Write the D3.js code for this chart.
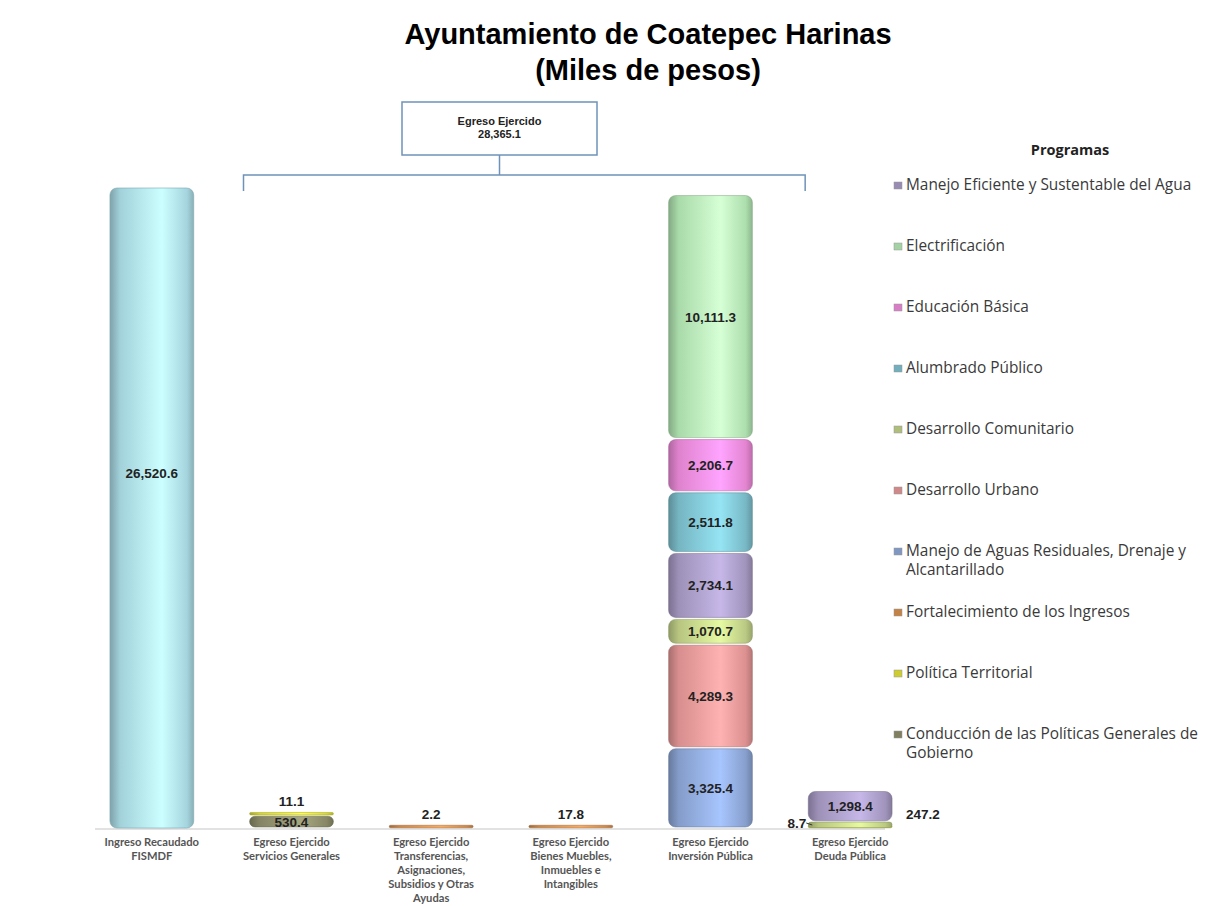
<!DOCTYPE html>
<html>
<head>
<meta charset="utf-8">
<script src="https://cdn.jsdelivr.net/npm/d3@7"></script>
<style>
  body { margin: 0; background: #fff; }
  svg { display: block; }
</style>
</head>
<body>
<div id="chart"></div>
<script>
// categories along the bottom
const categories = [
  "Ingreso Recaudado|FISMDF",
  "Egreso Ejercido|Servicios Generales",
  "Egreso Ejercido|Transferencias,|Asignaciones,|Subsidios y Otras|Ayudas",
  "Egreso Ejercido|Bienes Muebles,|Inmuebles e|Intangibles",
  "Egreso Ejercido|Inversión Pública",
  "Egreso Ejercido|Deuda Pública"
];

// ingreso bar (only first category)
const ingreso = [26520.6, 0, 0, 0, 0, 0];

// programs in stacking order (bottom -> top)
const programs = [
  "Conducción de las Políticas Generales de Gobierno",
  "Política Territorial",
  "Fortalecimiento de los Ingresos",
  "Manejo de Aguas Residuales, Drenaje y Alcantarillado",
  "Desarrollo Urbano",
  "Desarrollo Comunitario",
  "Manejo Eficiente y Sustentable del Agua",
  "Alumbrado Público",
  "Educación Básica",
  "Electrificación"
];

// values per program, one per category
const conduccion   = [0, 530.4, 0, 0, 0, 0];
const politicaTerr = [0, 11.1, 0, 0, 0, 8.7];
const fortalec     = [0, 0, 2.2, 17.8, 0, 0];
const aguasResid   = [0, 0, 0, 0, 3325.4, 0];
const desUrbano    = [0, 0, 0, 0, 4289.3, 0];
const desComunit   = [0, 0, 0, 0, 1070.7, 247.2];
const manejoAgua   = [0, 0, 0, 0, 2734.1, 1298.4];
const alumbrado    = [0, 0, 0, 0, 2511.8, 0];
const educacion    = [0, 0, 0, 0, 2206.7, 0];
const electrif     = [0, 0, 0, 0, 10111.3, 0];

const seriesValues = [conduccion, politicaTerr, fortalec, aguasResid, desUrbano,
                      desComunit, manejoAgua, alumbrado, educacion, electrif];

const programColors = ["#8e8e6c", "#e4e436", "#d9914e", "#8ea8d8", "#e89898",
                       "#c4d48a", "#a99cc6", "#7fc2d0", "#f08cdc", "#b6eab6"];
const ingresoColor = "#aee0ea";

// legend order (top -> bottom)
const legendOrder = [
  "Manejo Eficiente y Sustentable del Agua",
  "Electrificación",
  "Educación Básica",
  "Alumbrado Público",
  "Desarrollo Comunitario",
  "Desarrollo Urbano",
  "Manejo de Aguas Residuales, Drenaje y|Alcantarillado",
  "Fortalecimiento de los Ingresos",
  "Política Territorial",
  "Conducción de las Políticas Generales de|Gobierno"
];

const totalEgreso = 28365.1;

const width = 1207, height = 906;
const fmt = d3.format(",.1f");

const svg = d3.select("#chart").append("svg")
  .attr("width", width)
  .attr("height", height);

const defs = svg.append("defs");
function gradId(color, i) {
  let id = "g" + i;
  let c = d3.color(color);
  let g = defs.append("linearGradient").attr("id", id)
    .attr("x1", "0%").attr("x2", "100%").attr("y1", "0%").attr("y2", "0%");
  g.append("stop").attr("offset", "0%").attr("stop-color", c.darker(0.9));
  g.append("stop").attr("offset", "12%").attr("stop-color", c.darker(0.2));
  g.append("stop").attr("offset", "62%").attr("stop-color", c.brighter(0.45));
  g.append("stop").attr("offset", "92%").attr("stop-color", c.darker(0.15));
  g.append("stop").attr("offset", "100%").attr("stop-color", c.darker(0.7));
  return "url(#" + id + ")";
}
const fills = programColors.map((c, i) => gradId(c, i));
const ingresoFill = gradId(ingresoColor, "ing");

// title
svg.append("text").attr("x", 648).attr("y", 44)
  .attr("text-anchor", "middle")
  .style("font-family", "Liberation Sans, Arial, sans-serif")
  .style("font-weight", "bold").style("font-size", "29px")
  .text("Ayuntamiento de Coatepec Harinas");
svg.append("text").attr("x", 648).attr("y", 80)
  .attr("text-anchor", "middle")
  .style("font-family", "Liberation Sans, Arial, sans-serif")
  .style("font-weight", "bold").style("font-size", "29px")
  .text("(Miles de pesos)");

// scales
let x = d3.scaleBand()
  .domain(categories)
  .range([82, 920])
  .paddingInner(0.4)
  .paddingOuter(0.2);

let y = d3.scaleLinear()
  .domain([0, 26520.6])
  .range([828, 188]);

// baseline
svg.append("line")
  .attr("x1", 95).attr("x2", 885)
  .attr("y1", y(0) + 1).attr("y2", y(0) + 1)
  .attr("stroke", "#d8d8d8").attr("stroke-width", 1.5);

// bracket with total egreso
let boxX = 402, boxY = 102, boxW = 195, boxH = 53;
let bracketY = 175;
let lineColor = "#6f93b8";
svg.append("rect")
  .attr("x", boxX).attr("y", boxY).attr("width", boxW).attr("height", boxH)
  .attr("fill", "#fff").attr("stroke", lineColor).attr("stroke-width", 1.5);
svg.append("text").attr("x", boxX + boxW / 2).attr("y", boxY + 23)
  .attr("text-anchor", "middle")
  .style("font-family", "Liberation Sans Narrow, Liberation Sans, sans-serif")
  .style("font-weight", "bold").style("font-size", "11px").style("fill", "#222")
  .text("Egreso Ejercido");
svg.append("text").attr("x", boxX + boxW / 2).attr("y", boxY + 36)
  .attr("text-anchor", "middle")
  .style("font-family", "Liberation Sans Narrow, Liberation Sans, sans-serif")
  .style("font-weight", "bold").style("font-size", "11px").style("fill", "#222")
  .text(fmt(totalEgreso));

let bx0 = x(categories[1]) + x.bandwidth() / 2 - 48;
let bx1 = x(categories[5]) + x.bandwidth() / 2 - 45;
svg.append("path")
  .attr("d", `M${boxX + boxW / 2},${boxY + boxH} V${bracketY} M${bx0},${bracketY + 16} V${bracketY} H${bx1} V${bracketY + 16}`)
  .attr("fill", "none").attr("stroke", lineColor).attr("stroke-width", 1.5);

// ingreso bar
let bw = x.bandwidth();
let ingCat = categories[0];
svg.append("rect")
  .attr("x", x(ingCat)).attr("y", y(ingreso[0]))
  .attr("width", bw).attr("height", y(0) - y(ingreso[0]))
  .attr("rx", 7)
  .attr("fill", ingresoFill)
  .attr("stroke", "#7da9b3").attr("stroke-width", 0.6);
svg.append("text")
  .attr("x", x(ingCat) + bw / 2)
  .attr("y", y(ingreso[0] * 0.555) + 5)
  .attr("text-anchor", "middle")
  .style("font-family", "Liberation Sans Narrow, Liberation Sans, sans-serif")
  .style("font-weight", "bold").style("font-size", "13.5px").style("fill", "#222")
  .text(fmt(ingreso[0]));

// stacked programs
let table = categories.map((c, i) => {
  let row = { cat: c };
  programs.forEach((p, j) => row[p] = seriesValues[j][i]);
  return row;
});
let stacked = d3.stack().keys(programs)(table);

let segs = [];
stacked.forEach((layer, j) => {
  layer.forEach(d => {
    let v = d[1] - d[0];
    if (v > 0) segs.push({ prog: j, cat: d.data.cat, v: v, y0: d[0], y1: d[1] });
  });
});

let segG = svg.append("g");
segs.forEach(s => {
  let top = y(s.y1), bot = y(s.y0);
  let h = Math.max(bot - top, 3);
  if (bot - top < 3) top = bot - 3;
  let gap = h > 10 ? 2 : 0.5;
  segG.append("rect")
    .attr("x", x(s.cat)).attr("y", top + gap / 2)
    .attr("width", bw).attr("height", h - gap)
    .attr("rx", Math.min(7, (h - gap) / 2))
    .attr("fill", fills[s.prog])
    .attr("stroke", d3.color(programColors[s.prog]).darker(1))
    .attr("stroke-width", 0.5);
  s.top = top; s.bot = bot; s.h = h;
});

// value labels
let labelStyle = sel => sel
  .style("font-family", "Liberation Sans Narrow, Liberation Sans, sans-serif")
  .style("font-weight", "bold").style("font-size", "13.5px").style("fill", "#222");

let stackTop = {};
categories.forEach((c, i) => {
  stackTop[c] = d3.sum(seriesValues, s => s[i]);
});

segs.forEach(s => {
  let cx = x(s.cat) + bw / 2;
  let t = svg.append("text").attr("text-anchor", "middle").call(labelStyle);
  if (s.h >= 11) {
    t.attr("x", cx).attr("y", (s.top + s.bot) / 2 + 5);
  } else if (s.cat === categories[5]) {
    // Deuda Pública: small layers labelled at the sides
    if (s.v < 100) {
      t.attr("x", x(s.cat) - 2).attr("y", s.bot - 0).attr("text-anchor", "end");
      svg.append("line").attr("x1", x(s.cat) - 2).attr("x2", x(s.cat) + 4)
        .attr("y1", s.bot - 5).attr("y2", s.bot - 3)
        .attr("stroke", "#333").attr("stroke-width", 1);
    } else {
      t.attr("x", x(s.cat) + bw + 14).attr("y", s.bot - 9).attr("text-anchor", "start");
    }
  } else {
    t.attr("x", cx).attr("y", y(stackTop[s.cat]) - 9);
  }
  t.text(fmt(s.v));
});

// category labels
categories.forEach(c => {
  let lines = c.split("|");
  let t = svg.append("text")
    .attr("x", x(c) + bw / 2)
    .attr("y", 846)
    .attr("text-anchor", "middle")
    .style("font-family", "Lato, Open Sans, sans-serif")
    .style("font-weight", "bold").style("font-size", "11.2px").style("fill", "#555");
  lines.forEach((l, i) => t.append("tspan")
    .attr("x", x(c) + bw / 2).attr("dy", i === 0 ? 0 : 14).text(l));
});

// legend
let legend = svg.append("g");
legend.append("text").attr("x", 1070).attr("y", 155)
  .attr("text-anchor", "middle")
  .style("font-family", "Open Sans, Lato, sans-serif")
  .style("font-weight", "bold").style("font-size", "14.5px").style("fill", "#222")
  .text("Programas");

let ly = d3.scalePoint()
  .domain(legendOrder)
  .range([190, 739]);

legendOrder.forEach(name => {
  let prog = programs.indexOf(name.replace("|", " "));
  let yy = ly(name);
  legend.append("rect")
    .attr("x", 894).attr("y", yy - 8).attr("width", 8).attr("height", 7)
    .attr("fill", d3.color(programColors[prog]).darker(0.3))
    .attr("stroke", "#999").attr("stroke-width", 0.5);
  let t = legend.append("text")
    .attr("x", 906).attr("y", yy)
    .style("font-family", "Open Sans, Lato, sans-serif")
    .style("font-size", "15.4px").style("fill", "#3a3a3a");
  name.split("|").forEach((l, i) => t.append("tspan")
    .attr("x", 906).attr("dy", i === 0 ? 0 : 19).text(l));
});
</script>
</body>
</html>
